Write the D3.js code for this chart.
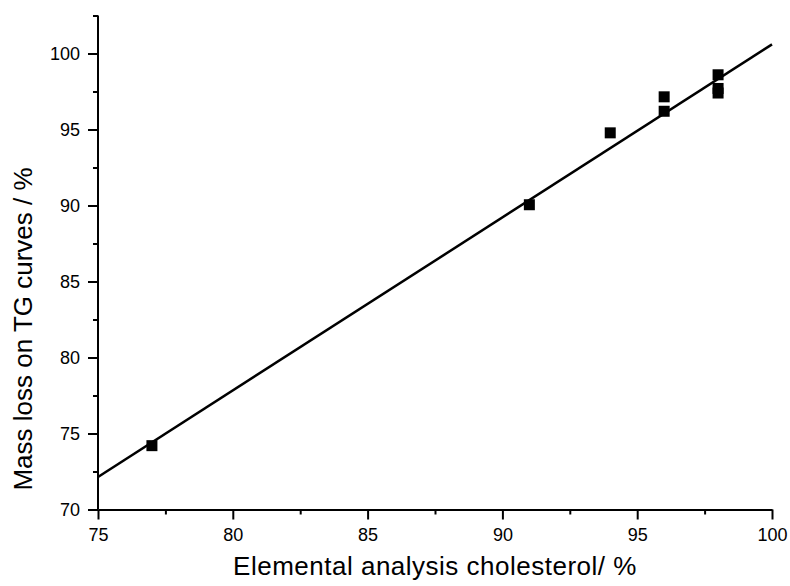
<!DOCTYPE html>
<html>
<head>
<meta charset="utf-8">
<script src="https://cdn.jsdelivr.net/npm/d3@7"></script>
<style>
  body { margin: 0; background: #fff; }
  text { font-family: "Liberation Sans", Arial, sans-serif; fill: #000; }
</style>
</head>
<body>
<div id="chart"></div>
<script>
// measured points
const cholesterol = [77, 91, 94, 96, 96, 98, 98, 98];
const massLoss = [74.2, 90.05, 94.78, 97.15, 96.2, 98.6, 97.7, 97.4];

// fitted line end points
const fitX = [75, 100];
const fitY = [72.14, 100.6];

const xTicks = [75, 80, 85, 90, 95, 100];
const xMinor = [77.5, 82.5, 87.5, 92.5, 97.5];
const yTicks = [70, 75, 80, 85, 90, 95, 100];
const yMinor = [72.5, 77.5, 82.5, 87.5, 92.5, 97.5, 102.5];

const margin = {top: 15.5, right: 18, bottom: 76.5, left: 98},
  width = 790 - margin.left - margin.right,
  height = 586 - margin.top - margin.bottom;

const svg = d3.select("#chart")
  .append("svg")
  .attr("width", 790)
  .attr("height", 586)
    .append("g")
    .attr("transform", `translate(${margin.left}, ${margin.top})`);

const x = d3.scaleLinear().domain([75, 100]).range([0, width]);
const y = d3.scaleLinear().domain([70, 102.5]).range([height, 0]);

// minor ticks first
svg.append("g")
  .attr("transform", `translate(0, ${height})`)
  .call(d3.axisBottom(x).tickValues(xMinor).tickSize(5).tickSizeOuter(0).tickFormat(""))
  .call(g => g.select(".domain").remove())
  .selectAll("line").attr("stroke-width", 2);

svg.append("g")
  .call(d3.axisLeft(y).tickValues(yMinor).tickSize(5).tickSizeOuter(0).tickFormat(""))
  .call(g => g.select(".domain").remove())
  .selectAll("line").attr("stroke-width", 2);

// main axes
const xAxis = svg.append("g")
  .attr("transform", `translate(0, ${height})`)
  .call(d3.axisBottom(x).tickValues(xTicks).tickSize(10).tickSizeOuter(0).tickPadding(9));

const yAxis = svg.append("g")
  .call(d3.axisLeft(y).tickValues(yTicks).tickSize(10).tickSizeOuter(0).tickPadding(8));

[xAxis, yAxis].forEach(a => {
  a.select(".domain").attr("stroke-width", 2);
  a.selectAll("line").attr("stroke-width", 2);
  a.selectAll("text")
    .attr("font-size", 18)
    .attr("font-family", "Liberation Sans, Arial, sans-serif");
});

// y domain reaches the top minor tick
yAxis.select(".domain").attr("d", `M0,${y(102.5)}V${height}`);

// fit line
svg.append("line")
  .attr("x1", x(fitX[0]))
  .attr("y1", y(fitY[0]))
  .attr("x2", x(fitX[1]))
  .attr("y2", y(fitY[1]))
  .attr("stroke", "#000")
  .attr("stroke-width", 2.5);

// squares
const s = 11;
svg.append("g")
  .selectAll("rect")
  .data(cholesterol)
  .join("rect")
  .attr("x", d => x(d) - s / 2)
  .attr("y", (d, i) => y(massLoss[i]) - s / 2)
  .attr("width", s)
  .attr("height", s)
  .attr("fill", "#000");

// axis titles
svg.append("text")
  .attr("x", width / 2)
  .attr("y", height + 65.5)
  .attr("text-anchor", "middle")
  .attr("font-size", 26)
  .attr("letter-spacing", 0.5)
  .text("Elemental analysis cholesterol/ %");

svg.append("text")
  .attr("transform", `translate(${32 - margin.left}, ${329 - margin.top}) rotate(-90)`)
  .attr("text-anchor", "middle")
  .attr("font-size", 26)
  .text("Mass loss on TG curves / %");
</script>
</body>
</html>
